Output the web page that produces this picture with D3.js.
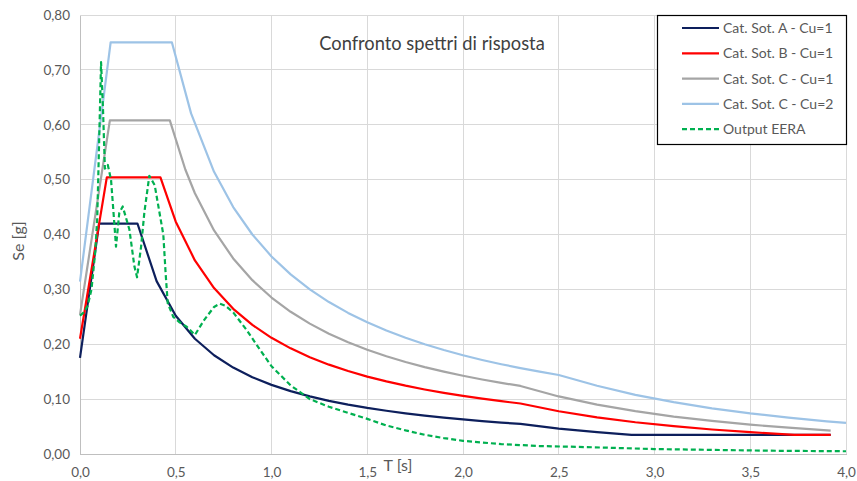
<!DOCTYPE html>
<html><head><meta charset="utf-8">
<script src="https://cdn.jsdelivr.net/npm/d3@7"></script>
<style>html,body{margin:0;padding:0;background:#fff;}svg{display:block;font-family:Lato,"Open Sans",sans-serif;}</style>
</head><body>
<svg id="c" width="857" height="481"></svg>
<script>
const title = "Confronto spettri di risposta";
const xTicks = [0,0.5,1.0,1.5,2.0,2.5,3.0,3.5,4.0];
const yTicks = [0,0.1,0.2,0.3,0.4,0.5,0.6,0.7,0.8];
const seriesNames = ["Cat. Sot. A - Cu=1","Cat. Sot. B - Cu=1","Cat. Sot. C - Cu=1","Cat. Sot. C - Cu=2","Output EERA"];
const seriesColors = ["#0d1f5c","#ff0000","#a5a5a5","#9dc3e6","#00b050"];

const tA = [0,0.1,0.3,0.4,0.5,0.6,0.7,0.8,0.9,1.0,1.1,1.2,1.3,1.4,1.5,1.6,1.7,1.8,1.9,2.0,2.1,2.2,2.3,2.5,2.7,2.88,3.1,3.3,3.5,3.7,3.92];
const seA = [0.175,0.42,0.42,0.315,0.252,0.21,0.18,0.1575,0.14,0.126,0.1145,0.105,0.0969,0.09,0.084,0.0788,0.0741,0.07,0.0663,0.063,0.06,0.0573,0.0548,0.0464,0.0398,0.035,0.035,0.035,0.035,0.035,0.035];

const tB = [0,0.14,0.42,0.5,0.6,0.7,0.8,0.9,1.0,1.1,1.2,1.3,1.4,1.5,1.6,1.7,1.8,1.9,2.0,2.1,2.2,2.3,2.5,2.7,2.9,3.1,3.3,3.5,3.73,3.92];
const seB = [0.21,0.504,0.504,0.4234,0.3528,0.3024,0.2646,0.2352,0.2117,0.1925,0.1764,0.1628,0.1512,0.1411,0.1323,0.1245,0.1176,0.1114,0.1058,0.1008,0.0962,0.092,0.0779,0.0668,0.0579,0.0507,0.0447,0.0398,0.035,0.035];

const tC1 = [0,0.156,0.469,0.55,0.6,0.7,0.8,0.9,1.0,1.1,1.2,1.3,1.4,1.5,1.6,1.7,1.8,1.9,2.0,2.1,2.2,2.3,2.5,2.7,2.9,3.1,3.3,3.5,3.7,3.92];
const seC1 = [0.2534,0.608,0.608,0.5184,0.4752,0.4073,0.3564,0.3168,0.2851,0.2592,0.2376,0.2193,0.2036,0.1901,0.1782,0.1677,0.1584,0.1501,0.1426,0.1358,0.1296,0.124,0.1049,0.0899,0.078,0.0682,0.0602,0.0535,0.0479,0.0427];

const tC2 = [0,0.16,0.48,0.58,0.7,0.8,0.9,1.0,1.1,1.2,1.3,1.4,1.5,1.6,1.7,1.8,1.9,2.0,2.1,2.2,2.3,2.4,2.5,2.7,2.9,3.1,3.3,3.5,3.7,3.9,4.0];
const seC2 = [0.314,0.75,0.75,0.6207,0.5143,0.45,0.4,0.36,0.3273,0.3,0.2769,0.2571,0.24,0.225,0.2118,0.2,0.1895,0.18,0.1714,0.1636,0.1565,0.15,0.144,0.1244,0.1078,0.0944,0.0833,0.074,0.0663,0.0596,0.0567];

const tE = [0,0.02,0.04,0.06,0.08,0.09,0.10,0.11,0.12,0.13,0.145,0.162,0.175,0.188,0.205,0.223,0.258,0.284,0.298,0.319,0.336,0.362,0.39,0.415,0.435,0.447,0.458,0.487,0.52,0.557,0.60,0.65,0.70,0.73,0.76,0.80,0.87,0.94,1.0,1.1,1.2,1.3,1.4,1.5,1.6,1.7,1.8,1.9,2.0,2.2,2.4,2.6,2.8,3.0,3.2,3.4,3.6,3.8,4.0];
const seE = [0.252,0.258,0.27,0.30,0.37,0.43,0.57,0.714,0.63,0.52,0.527,0.50,0.44,0.378,0.439,0.451,0.409,0.342,0.322,0.378,0.44,0.507,0.49,0.44,0.40,0.33,0.275,0.25,0.24,0.232,0.217,0.245,0.268,0.274,0.27,0.258,0.226,0.19,0.16,0.125,0.100,0.086,0.075,0.064,0.052,0.043,0.035,0.029,0.024,0.018,0.0145,0.013,0.011,0.009,0.008,0.007,0.006,0.0055,0.005];

const seriesT = [tA,tB,tC1,tC2,tE];
const seriesSe = [seA,seB,seC1,seC2,seE];

const svg = d3.select("#c");
const x = d3.scaleLinear().domain([0,4]).range([80,846]);
const y = d3.scaleLinear().domain([0,0.8]).range([454,15]);
const fmt = d => d3.format(".1f")(d).replace(".", ",");
const fmtY = d => d3.format(".2f")(d).replace(".", ",");

// grid
svg.append("g").selectAll("line").data(yTicks).join("line")
  .attr("x1",x(0)).attr("x2",x(4)).attr("y1",d=>y(d)).attr("y2",d=>y(d))
  .attr("stroke","#d9d9d9").attr("stroke-width",1).attr("shape-rendering","crispEdges");
svg.append("g").selectAll("line").data(xTicks).join("line")
  .attr("y1",y(0)).attr("y2",y(0.8)).attr("x1",d=>x(d)).attr("x2",d=>x(d))
  .attr("stroke","#d9d9d9").attr("stroke-width",1).attr("shape-rendering","crispEdges");

// axes
const xAxis = svg.append("g").attr("transform",`translate(0,${y(0)})`)
  .call(d3.axisBottom(x).tickValues(xTicks).tickFormat(fmt).tickSize(0).tickPadding(13));
const yAxis = svg.append("g").attr("transform",`translate(${x(0)},0)`)
  .call(d3.axisLeft(y).tickValues(yTicks).tickFormat(fmtY).tickSize(0).tickPadding(10));
[xAxis,yAxis].forEach(a=>{
  a.select(".domain").attr("stroke","#bfbfbf").attr("shape-rendering","crispEdges");
  a.selectAll("text").attr("fill","#595959").style("font-size","13.5px").style("font-family","Lato,'Open Sans',sans-serif");
});

// lines
const line = d3.line().x(d=>x(d[0])).y(d=>y(d[1]));
seriesT.forEach((ts,i)=>{
  const pts = ts.map((t,j)=>[t,seriesSe[i][j]]);
  svg.append("path").datum(pts).attr("d",line).attr("fill","none")
    .attr("stroke",seriesColors[i]).attr("stroke-width",2.2)
    .attr("stroke-linejoin","round")
    .attr("stroke-dasharray", i===4 ? "5,3" : null);
});

// titles
svg.append("text").attr("x",432).attr("y",50).attr("text-anchor","middle")
  .attr("fill","#404040").style("font-size","18.3px").text(title);
svg.append("text").attr("x",398).attr("y",471).attr("text-anchor","middle")
  .attr("fill","#595959").style("font-size","16px").text("T [s]");
svg.append("text").attr("transform","translate(24,241) rotate(-90)").attr("text-anchor","middle")
  .attr("fill","#595959").style("font-size","16px").text("Se [g]");

// legend
const lg = svg.append("g");
lg.append("rect").attr("x",657.5).attr("y",15.5).attr("width",189).attr("height",129)
  .attr("fill","#fff").attr("stroke","#000").attr("stroke-width",1.2);
seriesNames.forEach((n,i)=>{
  const yy = 28 + i*25.3;
  lg.append("line").attr("x1",682).attr("x2",719).attr("y1",yy).attr("y2",yy)
    .attr("stroke",seriesColors[i]).attr("stroke-width",2.2)
    .attr("stroke-dasharray", i===4 ? "5,3" : null);
  lg.append("text").attr("x",723).attr("y",yy+5).attr("fill","#595959")
    .style("font-size","14px").text(n);
});
</script>
</body></html>
